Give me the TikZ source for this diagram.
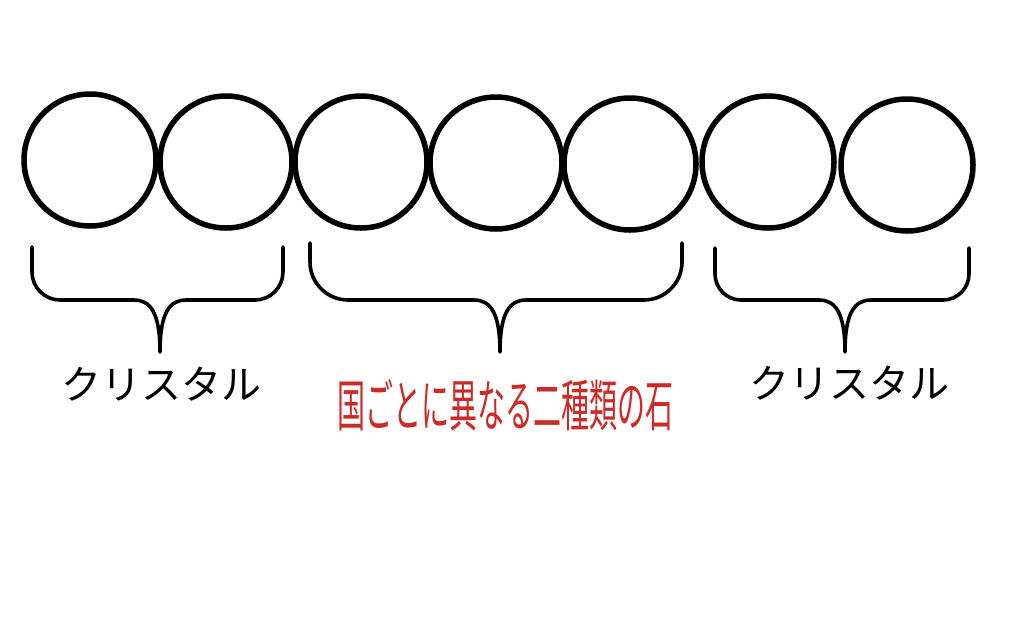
\documentclass[tikz,border=0pt]{standalone}
\usepackage{fontspec}
\usepackage{graphicx}
\newfontfamily\jpfont{Noto Sans CJK JP}
\usepackage{tikz}
\usetikzlibrary{calc,positioning}
\definecolor{stonered}{RGB}{204,44,40}

% brace under a group of stones: left x, tip x, right x, top y, corner
\newcommand{\groupbrace}[5]{%
  \draw[bracket] (#1,#4) -- (#1,{300-#5})
    .. controls (#1,{300-0.45*#5}) and ({#1+0.45*#5},300) .. ({#1+#5},300)
    -- ({#2-26},300) .. controls ({#2-10},300) and (#2,312) .. (#2,352)
    .. controls (#2,312) and ({#2+10},300) .. ({#2+26},300)
    -- ({#3-#5},300) .. controls ({#3-0.45*#5},300) and (#3,{300-0.45*#5}) .. (#3,{300-#5})
    -- (#3,#4);}

\tikzset{
  stone/.style={circle,draw,line width=5.5pt,minimum size=132pt,inner sep=0pt},
  bracket/.style={line width=3.6pt,line cap=round,line join=round},
  crystal/.style={font=\jpfont\fontsize{40}{44}\selectfont},
  redstone/.style={text=stonered,font=\jpfont\fontsize{56}{60}\selectfont}
}

\begin{document}
\begin{tikzpicture}[x=1pt,y=-1pt]
	\fill[white] (0,0) rectangle (1024,630);
	\useasboundingbox (0,0) rectangle (1024,630);
	% the seven stones
	\foreach \n/\x/\y in {1/90/160,2/226/162,3/361/162,4/496/163,5/630/164,6/768/162,7/907/165}
		\node[stone] (s\n) at (\x,\y) {};
	% braces
	\groupbrace{32}{160}{283}{247}{28}
	\groupbrace{310}{500}{682}{243}{38}
	\groupbrace{715}{845}{969}{248}{26}
	% labels
	\node[crystal] (leftlabel) at (161,384) {クリスタル};
	\node[redstone] (midlabel) at (505,405) {\scalebox{0.5}[1]{国ごとに異なる二種類の石}};
	\node[crystal] (rightlabel) at (849,383) {クリスタル};
\end{tikzpicture}
\end{document}
